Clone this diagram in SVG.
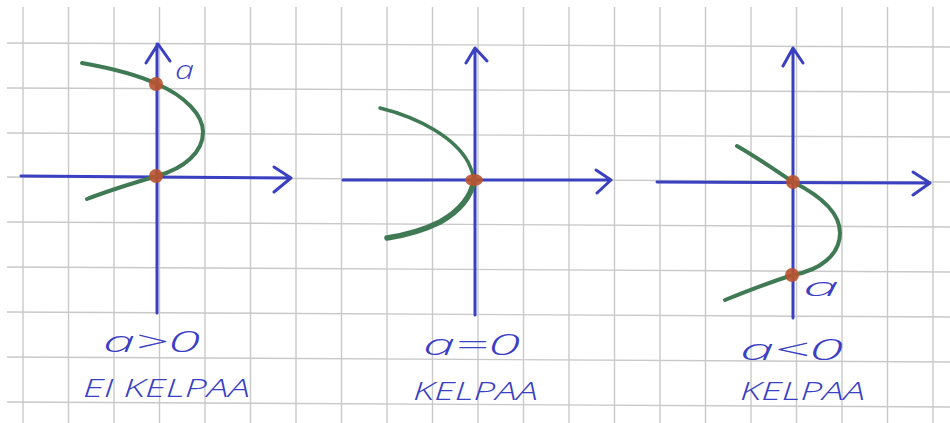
<svg xmlns="http://www.w3.org/2000/svg" width="950" height="423" viewBox="0 0 950 423">
<defs>
<style>
.grid line{stroke:#c9c9c9;stroke-width:1.4}
.axis{stroke:#3a40c0;stroke-width:3;fill:none;stroke-linecap:round;stroke-linejoin:round}
.curve{stroke:#3f7a55;fill:none;stroke-linecap:round;stroke-linejoin:round}
.dot{fill:#b9522f;opacity:0.9}
.lbl{fill:#3a40c4;font-family:"Open Sans","Noto Sans",sans-serif;font-style:italic;font-weight:300}
</style>
</defs>
<rect width="950" height="423" fill="#ffffff"/>
<g class="grid">
<line x1="23" y1="7" x2="23" y2="423"/><line x1="68.5" y1="7" x2="68.5" y2="423"/><line x1="114" y1="7" x2="114" y2="423"/><line x1="159.5" y1="7" x2="159.5" y2="423"/><line x1="205" y1="7" x2="205" y2="423"/><line x1="250.5" y1="7" x2="250.5" y2="423"/><line x1="296" y1="7" x2="296" y2="423"/><line x1="341.5" y1="7" x2="341.5" y2="423"/><line x1="387" y1="7" x2="387" y2="423"/><line x1="432.5" y1="7" x2="432.5" y2="423"/><line x1="478" y1="7" x2="478" y2="423"/><line x1="523.5" y1="7" x2="523.5" y2="423"/><line x1="569" y1="7" x2="569" y2="423"/><line x1="614.5" y1="7" x2="614.5" y2="423"/><line x1="660" y1="7" x2="660" y2="423"/><line x1="705.5" y1="7" x2="705.5" y2="423"/><line x1="751" y1="7" x2="751" y2="423"/><line x1="796.5" y1="7" x2="796.5" y2="423"/><line x1="842" y1="7" x2="842" y2="423"/><line x1="887.5" y1="7" x2="887.5" y2="423"/><line x1="933" y1="7" x2="933" y2="423"/>
<line x1="7" y1="43" x2="950" y2="47"/><line x1="7" y1="88" x2="950" y2="92"/><line x1="7" y1="133" x2="950" y2="137"/><line x1="7" y1="177" x2="950" y2="182"/><line x1="7" y1="222" x2="950" y2="227"/><line x1="7" y1="267" x2="950" y2="272"/><line x1="7" y1="312" x2="950" y2="317"/><line x1="7" y1="357" x2="950" y2="362"/><line x1="7" y1="402" x2="950" y2="407"/>
</g>
<g id="graph1">
<path class="axis" d="M157,313 L157,44 M146,63 L158,44 L170,61 M21,176 L291,178 M274,167 L291,178 L274,192"/>
<path class="curve" stroke-width="4" d="M82,63 C110,68 140,76 157,84 C185,96 203,115 203,132 C203,152 185,168 157,176 C130,184 105,192 87,199"/>
<circle class="dot" cx="156" cy="84" r="7"/>
<circle class="dot" cx="156" cy="176" r="7"/>
<text class="lbl" x="175" y="79" font-size="26" textLength="19" lengthAdjust="spacingAndGlyphs">a</text>
<text class="lbl" x="103" y="352" font-size="30" textLength="97" lengthAdjust="spacingAndGlyphs">a&gt;0</text>
<text class="lbl" x="83" y="397" font-size="26" textLength="167" lengthAdjust="spacingAndGlyphs">EI KELPAA</text>
</g>
<g id="graph2">
<path class="axis" d="M475,315 L475,48 M466,63 L475,48 L487,61 M343,180 L611,180 M596,170 L611,180 L597,193"/>
<path class="curve" stroke-width="3.5" d="M380,108 C420,118 455,138 468,162 Q473,172 474,180"/>
<path class="curve" stroke-width="5.5" d="M474,180 Q470,205 440,222 C420,232 400,236 387,238"/>
<ellipse class="dot" cx="474" cy="180" rx="9" ry="6"/>
<text class="lbl" x="423" y="355" font-size="30" textLength="97" lengthAdjust="spacingAndGlyphs">a=0</text>
<text class="lbl" x="413" y="400" font-size="26" textLength="125" lengthAdjust="spacingAndGlyphs">KELPAA</text>
</g>
<g id="graph3">
<path class="axis" d="M793,318 L793,48 M783,66 L793,48 L803,63 M657,182 L930,183 M913,172 L930,183 L913,195"/>
<path class="curve" stroke-width="4" d="M737,146 C758,158 778,172 793,182 C825,198 840,215 840,233 C840,255 820,270 793,275 C770,282 745,292 725,300"/>
<circle class="dot" cx="793" cy="182" r="7"/>
<circle class="dot" cx="792" cy="275" r="7"/>
<text class="lbl" x="803" y="296" font-size="26" textLength="36" lengthAdjust="spacingAndGlyphs">a</text>
<text class="lbl" x="740" y="360" font-size="30" textLength="103" lengthAdjust="spacingAndGlyphs">a&lt;0</text>
<text class="lbl" x="740" y="400" font-size="26" textLength="125" lengthAdjust="spacingAndGlyphs">KELPAA</text>
</g>
</svg>
